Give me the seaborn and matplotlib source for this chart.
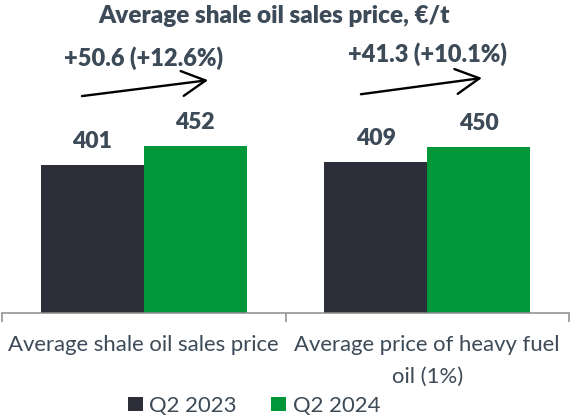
import matplotlib
matplotlib.use("Agg")
import matplotlib.pyplot as plt
import seaborn as sns
import pandas as pd
from matplotlib.patches import Patch

# Chart data
categories = ["Average shale oil sales price", "Average price of heavy fuel\noil (1%)"]
periods = ["Q2 2023", "Q2 2024"]
q2_2023 = [401, 409]
q2_2024 = [452, 450]
change_labels = ["+50.6 (+12.6%)", "+41.3 (+10.1%)"]
title = "Average shale oil sales price, €/t"

colors = {"Q2 2023": "#2c2f39", "Q2 2024": "#00963a"}
text_color = "#3d4a58"
axis_color = "#8c8c8c"

df = pd.DataFrame({
    "category": categories * 2,
    "period": [periods[0]] * len(categories) + [periods[1]] * len(categories),
    "value": q2_2023 + q2_2024,
})

sns.set_theme(style="white")
plt.rcParams["font.family"] = ["Lato", "DejaVu Sans"]

W, H = 570, 419
fig = plt.figure(figsize=(W / 100, H / 100), dpi=100)
ax = fig.add_axes([2 / W, 106 / H, 567 / W, 313 / H])

sns.barplot(data=df, x="category", y="value", hue="period",
            order=categories, hue_order=periods, palette=colors,
            width=0.727, saturation=1, linewidth=0, legend=False, ax=ax)

ax.set_xlim(-0.5, 1.5)
ax.set_ylim(0, 847)
ax.set_xlabel("")
ax.set_ylabel("")
ax.set_yticks([])

for s in ("left", "top", "right"):
    ax.spines[s].set_visible(False)
ax.spines["bottom"].set_color(axis_color)
ax.spines["bottom"].set_linewidth(1.1)

# boundary ticks between categories
ax.set_xticks([-0.5, 0.5, 1.5], minor=True)
ax.tick_params(axis="x", which="minor", bottom=True, length=6.5, width=1.1,
               color=axis_color, direction="out")
ax.tick_params(axis="x", which="major", bottom=True, length=0, pad=16,
               labelsize=15.9, labelcolor=text_color)
for lbl in ax.get_xticklabels():
    lbl.set_linespacing(1.75)

# value labels on bars
for cont in ax.containers:
    ax.bar_label(cont, labels=[f"{v:.0f}" for v in cont.datavalues],
                 padding=9.5, fontsize=16.5, fontweight="heavy", color=text_color)

# change annotations with arrows
arrow_starts = [(-0.218, 587), (0.766, 592)]
arrow_tips = [(0.227, 630), (1.193, 636)]
label_y = [668, 679]
for i, lab in enumerate(change_labels):
    ax.text(i, label_y[i], lab, ha="center", va="baseline", fontsize=17,
            fontweight="heavy", color=text_color, clip_on=False)
    ax.annotate("", xy=arrow_tips[i], xytext=arrow_starts[i],
                arrowprops=dict(arrowstyle="->,head_length=0.85,head_width=0.45",
                                lw=1.7, color="black", shrinkA=0, shrinkB=0,
                                mutation_scale=20),
                annotation_clip=False)

fig.text(274.5 / W, (H - 23) / H, title, ha="center", va="baseline",
         fontsize=17.5, fontweight="heavy", color=text_color)

handles = [Patch(facecolor=colors[p], edgecolor="none") for p in periods]
fig.legend(handles=handles, labels=periods, loc="center",
           bbox_to_anchor=(254 / W, 13 / H), ncol=2, frameon=False,
           fontsize=15.9, handlelength=0.67, handleheight=0.63,
           handletextpad=0.3, columnspacing=1.55, labelcolor=text_color,
           borderpad=0, borderaxespad=0)

fig.savefig("out.png", dpi=100)
